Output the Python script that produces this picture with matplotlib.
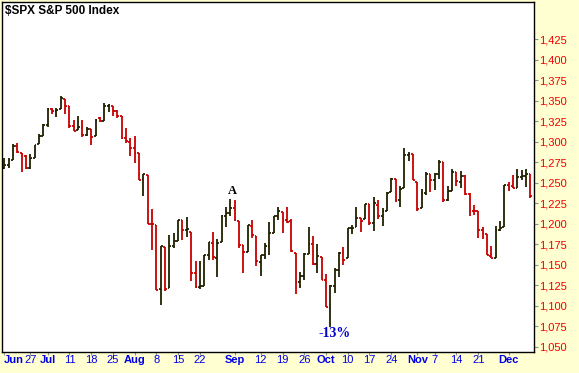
import matplotlib
matplotlib.use("Agg")
import matplotlib.pyplot as plt

# ---------------- data ----------------
dates = ["06-17", "06-20", "06-21", "06-22", "06-23", "06-24", "06-27", "06-28", "06-29", "06-30",
         "07-01", "07-05", "07-06", "07-07", "07-08", "07-11", "07-12", "07-13", "07-14", "07-15",
         "07-18", "07-19", "07-20", "07-21", "07-22", "07-25", "07-26", "07-27", "07-28", "07-29",
         "08-01", "08-02", "08-03", "08-04", "08-05", "08-08", "08-09", "08-10", "08-11", "08-12",
         "08-15", "08-16", "08-17", "08-18", "08-19", "08-22", "08-23", "08-24", "08-25", "08-26",
         "08-29", "08-30", "08-31", "09-01", "09-02", "09-06", "09-07", "09-08", "09-09", "09-12",
         "09-13", "09-14", "09-15", "09-16", "09-19", "09-20", "09-21", "09-22", "09-23", "09-26",
         "09-27", "09-28", "09-29", "09-30", "10-03", "10-04", "10-05", "10-06", "10-07", "10-10",
         "10-11", "10-12", "10-13", "10-14", "10-17", "10-18", "10-19", "10-20", "10-21", "10-24",
         "10-25", "10-26", "10-27", "10-28", "10-31", "11-01", "11-02", "11-03", "11-04", "11-07",
         "11-08", "11-09", "11-10", "11-11", "11-14", "11-15", "11-16", "11-17", "11-18", "11-21",
         "11-22", "11-23", "11-25", "11-28", "11-29", "11-30", "12-01", "12-02", "12-05", "12-06",
         "12-07", "12-08"]

opens = [1268.58, 1271.50, 1278.40, 1295.48, 1286.60, 1283.04, 1268.44, 1280.21, 1296.85, 1307.64,
         1320.64, 1339.59, 1337.56, 1339.62, 1352.39, 1343.31, 1319.61, 1314.45, 1317.74, 1308.87,
         1315.94, 1307.07, 1328.66, 1325.65, 1343.80, 1344.32, 1337.39, 1331.91, 1304.84, 1300.12,
         1292.59, 1286.56, 1254.25, 1260.23, 1200.28, 1198.48, 1120.23, 1171.77, 1121.30, 1172.87,
         1178.86, 1204.22, 1192.89, 1189.62, 1140.47, 1123.55, 1124.36, 1162.16, 1176.69, 1158.85,
         1177.91, 1209.76, 1213.00, 1219.12, 1203.90, 1173.97, 1165.85, 1197.98, 1185.37, 1153.50,
         1162.59, 1173.32, 1189.44, 1209.21, 1214.99, 1204.50, 1203.63, 1164.55, 1128.82, 1136.91,
         1163.32, 1175.39, 1151.74, 1159.93, 1131.21, 1097.42, 1124.03, 1144.11, 1165.03, 1158.15,
         1194.60, 1196.19, 1206.96, 1205.65, 1224.47, 1200.75, 1223.46, 1209.92, 1215.39, 1238.72,
         1254.19, 1229.17, 1243.97, 1284.39, 1284.96, 1251.00, 1219.62, 1238.25, 1260.82, 1253.21,
         1261.12, 1275.18, 1229.59, 1240.12, 1263.85, 1251.70, 1257.81, 1236.56, 1216.19, 1215.62,
         1192.98, 1187.48, 1161.41, 1158.67, 1192.56, 1196.72, 1246.91, 1246.03, 1244.33, 1257.19,
         1258.14, 1260.87]

highs = [1279.82, 1280.42, 1297.62, 1298.61, 1286.79, 1283.93, 1284.91, 1296.80, 1309.21, 1321.97,
         1341.01, 1340.89, 1340.94, 1356.48, 1352.39, 1343.31, 1327.17, 1331.48, 1326.88, 1317.70,
         1315.94, 1328.14, 1330.43, 1347.00, 1346.10, 1344.32, 1338.51, 1331.91, 1316.32, 1304.16,
         1307.38, 1286.56, 1261.20, 1260.23, 1218.11, 1198.48, 1172.88, 1171.77, 1186.29, 1189.04,
         1204.49, 1204.22, 1208.47, 1189.62, 1154.54, 1154.44, 1162.35, 1178.56, 1190.68, 1181.23,
         1210.28, 1220.10, 1230.71, 1229.29, 1203.90, 1173.97, 1198.62, 1204.40, 1185.37, 1162.52,
         1176.41, 1202.38, 1209.11, 1220.06, 1214.99, 1220.39, 1206.30, 1164.55, 1141.72, 1164.19,
         1195.86, 1184.71, 1175.87, 1159.93, 1138.99, 1125.12, 1146.07, 1165.55, 1171.40, 1194.91,
         1199.24, 1220.25, 1207.46, 1224.61, 1224.47, 1233.10, 1229.64, 1219.36, 1239.03, 1256.55,
         1254.19, 1246.28, 1292.66, 1287.08, 1284.96, 1251.00, 1242.48, 1263.21, 1260.82, 1261.70,
         1277.55, 1275.18, 1246.22, 1266.98, 1263.85, 1264.25, 1259.61, 1237.73, 1223.51, 1215.62,
         1196.81, 1187.48, 1172.66, 1197.35, 1203.67, 1247.11, 1251.09, 1260.08, 1266.73, 1266.03,
         1267.06, 1260.87]

lows = [1267.40, 1267.56, 1278.40, 1286.79, 1262.87, 1267.24, 1267.53, 1280.21, 1296.85, 1307.64,
        1318.18, 1334.30, 1330.92, 1339.62, 1333.71, 1316.42, 1313.33, 1314.45, 1306.51, 1307.35,
        1295.92, 1307.07, 1323.65, 1325.65, 1336.95, 1331.09, 1329.10, 1303.49, 1299.16, 1282.86,
        1274.73, 1254.03, 1234.56, 1199.54, 1168.09, 1119.28, 1101.54, 1118.01, 1121.30, 1170.74,
        1178.86, 1180.53, 1184.36, 1131.03, 1122.05, 1121.09, 1124.36, 1156.30, 1155.47, 1135.91,
        1177.91, 1195.77, 1209.35, 1203.85, 1170.56, 1140.13, 1165.85, 1183.34, 1148.37, 1136.07,
        1157.44, 1162.73, 1189.44, 1204.46, 1188.36, 1201.29, 1166.21, 1114.22, 1121.36, 1131.07,
        1163.32, 1150.40, 1139.93, 1131.34, 1098.92, 1074.77, 1115.68, 1134.95, 1150.26, 1158.15,
        1187.30, 1196.19, 1190.58, 1205.65, 1198.55, 1191.48, 1206.31, 1197.34, 1215.39, 1238.72,
        1226.79, 1221.06, 1243.97, 1277.01, 1253.16, 1215.42, 1219.62, 1234.81, 1238.92, 1240.75,
        1254.99, 1226.64, 1227.70, 1240.12, 1246.68, 1244.34, 1235.67, 1209.43, 1211.36, 1183.16,
        1181.65, 1161.79, 1158.66, 1158.67, 1191.80, 1196.72, 1239.73, 1243.35, 1244.33, 1253.03,
        1244.80, 1231.47]

closes = [1271.50, 1278.36, 1295.52, 1287.14, 1283.50, 1268.45, 1280.10, 1296.67, 1307.41, 1320.64,
          1339.67, 1337.88, 1339.22, 1353.22, 1343.80, 1319.49, 1313.64, 1317.72, 1308.87, 1316.14,
          1305.44, 1326.73, 1325.84, 1343.80, 1345.02, 1337.43, 1331.94, 1304.89, 1300.67, 1292.28,
          1286.94, 1254.05, 1260.34, 1200.07, 1199.38, 1119.46, 1172.53, 1120.76, 1172.64, 1178.81,
          1204.49, 1192.76, 1193.89, 1140.65, 1123.53, 1123.82, 1162.35, 1177.60, 1159.27, 1176.80,
          1210.08, 1212.92, 1218.89, 1204.42, 1173.97, 1165.24, 1198.62, 1185.90, 1154.23, 1162.27,
          1172.87, 1188.68, 1209.11, 1216.01, 1204.09, 1202.09, 1166.76, 1129.56, 1136.43, 1162.95,
          1175.38, 1151.06, 1160.40, 1131.42, 1099.23, 1123.95, 1144.03, 1164.97, 1155.46, 1194.89,
          1195.54, 1207.25, 1203.66, 1224.58, 1200.86, 1225.38, 1209.88, 1215.39, 1238.25, 1254.19,
          1229.05, 1242.00, 1284.59, 1285.09, 1253.30, 1218.28, 1237.90, 1261.15, 1253.23, 1261.12,
          1275.92, 1229.10, 1239.69, 1263.85, 1251.78, 1257.81, 1236.91, 1216.13, 1215.65, 1192.98,
          1188.04, 1161.79, 1158.67, 1192.55, 1195.19, 1246.96, 1244.58, 1244.28, 1257.08, 1258.47,
          1261.01, 1234.35]

prev_close = 1267.64  # close before the first bar

tick_dates = ["06-17", "06-27", "07-01", "07-11", "07-18", "07-25", "08-01", "08-08", "08-15",
              "08-22", "09-01", "09-12", "09-19", "09-26", "10-03", "10-10", "10-17", "10-24",
              "11-01", "11-07", "11-14", "11-21", "12-01"]
tick_labels = ["Jun", "27", "Jul", "11", "18", "25", "Aug", "8", "15", "22", "Sep", "12", "19",
               "26", "Oct", "10", "17", "24", "Nov", "7", "14", "21", "Dec"]
month_labels = ["Jun", "Jul", "Aug", "Sep", "Oct", "Nov", "Dec"]

y_ticks = list(range(1050, 1426, 25))

title = "$SPX S&P 500 Index"
peak_label = "A"
peak_date = "08-31"
drop_label = "-13%"
drop_date = "10-04"

# ---------------- figure ----------------
W, H = 579, 373
fig = plt.figure(figsize=(W / 100, H / 100), dpi=100)
fig.patch.set_facecolor("#FFFFD2")

left, right, top, bottom = 2, 534.3, 2, 351.5
ax = fig.add_axes([left / W, 1 - bottom / H, (right - left) / W, (bottom - top) / H])
ax.set_facecolor("white")

BLACK = "#202000"
RED = "#C80000"
xs = list(range(len(dates)))
colors = []
pc = prev_close
for c in closes:
    colors.append(BLACK if c >= pc else RED)
    pc = c

tw = 0.42
ax.vlines(xs, lows, highs, colors=colors, linewidth=1.3)
ax.hlines(opens, [x - tw for x in xs], xs, colors=colors, linewidth=1.3)
ax.hlines(closes, xs, [x + tw for x in xs], colors=colors, linewidth=1.3)

ax.set_xlim(-0.5, 121.9)
ax.set_ylim(1044.5, 1470.5)

for s in ax.spines.values():
    s.set_color("black")
    s.set_linewidth(1.0)

font = "Liberation Sans"
ax.yaxis.tick_right()
ax.set_yticks(y_ticks)
ax.set_yticklabels([f"{v:,}" for v in y_ticks], color="#F00000", fontsize=8, family=font)
ax.tick_params(axis="y", length=3, width=0.8, color="#909090", pad=0.5)

tick_pos = [dates.index(d) for d in tick_dates]
ax.set_xticks(tick_pos)
ax.set_xticklabels(tick_labels, color="#0000E6", fontsize=8, family=font)
ax.tick_params(axis="x", length=2, width=0.8, color="#909090", pad=0.8)
for lab in ax.get_xticklabels():
    t = lab.get_text()
    if t in month_labels:
        lab.set_fontweight("bold")
    if t == "Jun":
        lab.set_ha("left")

ax.text(3 / (right - left), 1 - 9 / (bottom - top), title, transform=ax.transAxes,
        fontsize=8.5, fontweight="bold", family=font, color="black", va="center", ha="left")

pi = dates.index(peak_date)
ax.annotate(peak_label, (pi, highs[pi]), xytext=(2, 2), textcoords="offset pixels",
            ha="center", va="bottom", fontsize=9, fontweight="bold",
            family="Liberation Serif", color="black")
di = dates.index(drop_date)
ax.annotate(drop_label, (di, lows[di]), xytext=(4, 0), textcoords="offset pixels",
            ha="center", va="top", fontsize=10, fontweight="bold",
            family="Liberation Serif", color="#0000CC")

fig.savefig("out.png", dpi=100, facecolor=fig.get_facecolor())
